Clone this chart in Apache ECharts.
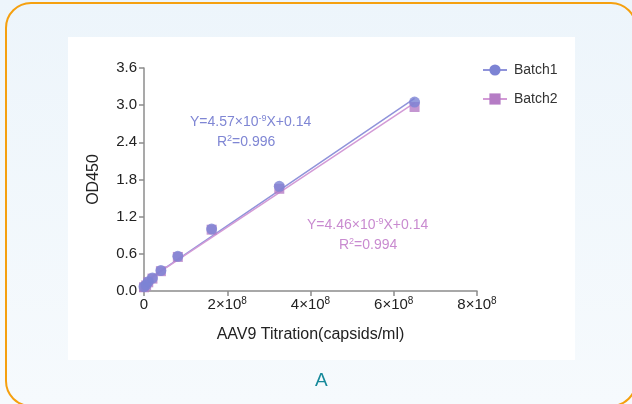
<!DOCTYPE html>
<html>
<head>
<meta charset="utf-8">
<script src="https://cdn.jsdelivr.net/npm/echarts@6/dist/echarts.min.js"></script>
<style>
  html, body { margin: 0; padding: 0; width: 632px; height: 404px; overflow: hidden; }
  body { background: linear-gradient(#edf5fb, #f6fafd); position: relative; font-family: Arial, "Liberation Sans", sans-serif; }
  .frame { position: absolute; left: 5px; top: 2px; width: 632px; height: 405px; border: 2px solid #f5a00f; border-radius: 26px; box-sizing: border-box; }
  .panel { position: absolute; left: 68px; top: 37px; width: 507px; height: 323px; background: #fff; }
  #chart { position: absolute; left: 0; top: 0; width: 632px; height: 404px; }
</style>
</head>
<body>
<div class="frame"></div>
<div class="panel"></div>
<div id="chart"></div>
<script>
// AAV9 capsid titration (2-fold dilution series) and OD450 readings
const titration = [0, 5.08e6, 1.02e7, 2.03e7, 4.06e7, 8.13e7, 1.625e8, 3.25e8, 6.5e8];
const batch1 = [0.07, 0.10, 0.15, 0.21, 0.33, 0.56, 1.00, 1.69, 3.05];
const batch2 = [0.06, 0.09, 0.14, 0.20, 0.32, 0.55, 0.99, 1.65, 2.97];

// Linear fits: [slope, intercept, R²]
const fit1 = [4.57e-9, 0.14, 0.996];
const fit2 = [4.46e-9, 0.14, 0.994];

const seriesNames = ['Batch1', 'Batch2'];
const yTicks = [0, 0.6, 1.2, 1.8, 2.4, 3.0, 3.6];
const xTicks = [0, 2e8, 4e8, 6e8, 8e8];

const c1 = '#7c83d4', c1line = '#8f93da', c1text = '#7f86d4';
const c2 = '#b57cc5', c2line = '#d39ad6', c2text = '#c98bd0';

const pts = (ys) => titration.map((x, i) => [x, ys[i]]);
const fitLine = (f) => {
  const x0 = titration[0], x1 = titration[titration.length - 1];
  return [[x0, f[0] * x0 + f[1]], [x1, f[0] * x1 + f[1]]];
};
const eqText = (f) => {
  const exp = Math.floor(Math.log10(f[0]));
  const m = (f[0] / Math.pow(10, exp)).toFixed(2);
  return 'Y=' + m + '×10{s|' + exp + '}X+' + f[1].toFixed(2);
};
const r2Text = (f) => 'R{s|2}=' + f[2].toFixed(3);

const chart = echarts.init(document.getElementById('chart'), null, { renderer: 'canvas' });

const supRich = (color) => ({
  s: { fontSize: 9, verticalAlign: 'top', color: color, lineHeight: 16 }
});

chart.setOption({
  backgroundColor: 'transparent',
  animation: false,
  textStyle: { fontFamily: 'Arial, "Liberation Sans", sans-serif' },
  grid: { left: 144, right: 155, top: 68, bottom: 113 },
  legend: {
    data: seriesNames,
    orient: 'vertical',
    left: 477,
    top: 58,
    itemWidth: 24,
    itemHeight: 14,
    itemGap: 15,
    textStyle: { fontSize: 14, color: '#333', padding: [0, 0, 0, 2] }
  },
  xAxis: {
    type: 'value',
    min: xTicks[0],
    max: xTicks[xTicks.length - 1],
    interval: xTicks[1] - xTicks[0],
    name: 'AAV9 Titration(capsids/ml)',
    nameLocation: 'middle',
    nameGap: 36,
    nameTextStyle: { fontSize: 16, color: '#222' },
    axisLine: { lineStyle: { color: '#8c8c8c', width: 1.5 } },
    axisTick: { length: 5, lineStyle: { color: '#8c8c8c', width: 1.5 } },
    splitLine: { show: false },
    axisLabel: {
      margin: 5,
      color: '#222',
      formatter: (v) => {
        if (v === 0) return '{m|0}';
        const exp = Math.floor(Math.log10(v));
        return '{m|' + Math.round(v / Math.pow(10, exp)) + '×10}{e|' + exp + '}';
      },
      rich: {
        m: { fontSize: 15, color: '#222', lineHeight: 17 },
        e: { fontSize: 10, color: '#222', verticalAlign: 'top', lineHeight: 17 }
      }
    }
  },
  yAxis: {
    type: 'value',
    min: yTicks[0],
    max: yTicks[yTicks.length - 1],
    interval: yTicks[1] - yTicks[0],
    name: 'OD450',
    nameLocation: 'middle',
    nameRotate: 90,
    nameGap: 42,
    nameTextStyle: { fontSize: 16, color: '#222' },
    axisLine: { show: true, lineStyle: { color: '#8c8c8c', width: 1.5 } },
    axisTick: { show: true, length: 5, lineStyle: { color: '#8c8c8c', width: 1.5 } },
    splitLine: { show: false },
    axisLabel: { margin: 7, color: '#222', fontSize: 15, formatter: (v) => v.toFixed(1) }
  },
  series: [
    {
      name: seriesNames[0], type: 'line', data: fitLine(fit1),
      symbol: 'circle', symbolSize: 10, showSymbol: false,
      lineStyle: { color: c1line, width: 1.5 }, itemStyle: { color: c1 }, z: 2
    },
    {
      name: seriesNames[1], type: 'line', data: fitLine(fit2),
      symbol: 'rect', symbolSize: 10, showSymbol: false,
      lineStyle: { color: c2line, width: 1.5 }, itemStyle: { color: c2 }, z: 2
    },
    {
      name: seriesNames[1], type: 'scatter', data: pts(batch2),
      symbol: 'rect', symbolSize: 10, itemStyle: { color: c2 }, z: 3
    },
    {
      name: seriesNames[0], type: 'scatter', data: pts(batch1),
      symbol: 'circle', symbolSize: 11, itemStyle: { color: c1 }, z: 4
    }
  ],
  graphic: [
    {
      type: 'text', left: 190, top: 114,
      style: { text: eqText(fit1), fontSize: 14, fill: c1text, rich: supRich(c1text) }
    },
    {
      type: 'text', left: 217, top: 134,
      style: { text: r2Text(fit1), fontSize: 14, fill: c1text, rich: supRich(c1text) }
    },
    {
      type: 'text', left: 307, top: 217,
      style: { text: eqText(fit2), fontSize: 14, fill: c2text, rich: supRich(c2text) }
    },
    {
      type: 'text', left: 339, top: 237,
      style: { text: r2Text(fit2), fontSize: 14, fill: c2text, rich: supRich(c2text) }
    },
    {
      type: 'text', left: 315, top: 371,
      style: { text: 'A', fontSize: 19, fill: '#16899a' }
    }
  ]
});
</script>
</body>
</html>
